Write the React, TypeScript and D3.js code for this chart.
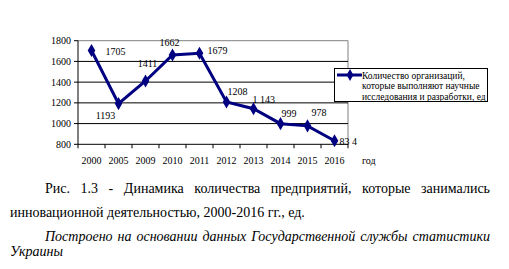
import React, { useEffect, useRef } from "react";
import * as d3 from "d3";

const years = ["2000", "2005", "2009", "2010", "2011", "2012", "2013", "2014", "2015", "2016"];
const values = [1705, 1193, 1411, 1662, 1679, 1208, 1143, 999, 978, 834];
const valueLabels = ["1705", "1193", "1411", "1662", "1679", "1208", "1 143", "999", "978", "83 4"];
const yTicks = [800, 1000, 1200, 1400, 1600, 1800];
const seriesName = ["Количество организаций,", "которые выполняют научные", "исследования и разработки, ед"];
const xAxisTitle = "год";
const captionLines = [
  "Рис. 1.3 - Динамика количества предприятий, которые занимались",
  "инновационной деятельностью, 2000-2016 гг., ед.",
];
const sourceLines = ["Построено на основании данных Государственной службы статистики", "Украины"];

// label offsets relative to the point (layout, not data)
const labelOffsets: [number, number, string][] = [
  [14, 4, "start"],
  [-13, 15, "middle"],
  [2, -14, "middle"],
  [-3, -9, "middle"],
  [8, 1, "start"],
  [1, -7, "start"],
  [-1, -6, "start"],
  [1, -7, "start"],
  [4, -10, "start"],
  [5, 4, "start"],
];

const L = 78, R = 348, T = 40.7, B = 144.3;
const navy = "#000080";
const FS = { fontFamily: "'Liberation Serif', 'Times New Roman', serif" };

export default function App() {
  const ref = useRef<SVGSVGElement>(null);
  const x = d3.scaleBand<string>().domain(years).range([L, R]);
  const y = d3.scaleLinear().domain([800, 1800]).range([B, T]);
  const line = d3
    .line<number>()
    .x((_, i) => (x(years[i]) as number) + x.bandwidth() / 2)
    .y((d) => y(d));
  const diamond = d3.symbol(d3.symbolDiamond, 50)() as string;

  useEffect(() => {
    if (!ref.current) return;
    d3.select(ref.current)
      .selectAll<SVGTextElement, unknown>("text.justify")
      .each(function () {
        const el = this;
        el.setAttribute("word-spacing", "0");
        const target = +(el.getAttribute("data-w") || 0);
        const w = el.getComputedTextLength();
        const spaces = (el.textContent || "").split(" ").length - 1;
        if (spaces > 0) el.setAttribute("word-spacing", String((target - w) / spaces));
      });
  }, []);

  return (
    <svg
      ref={ref}
      width={509}
      height={269}
      style={{ position: "absolute", left: 0, top: 0, background: "#fff" }}
    >
      <rect x={0} y={0} width={509} height={269} fill="#fff" />
      {/* plot border */}
      <line x1={L} x2={R} y1={y(1800)} y2={y(1800)} stroke="#808080" />
      <line x1={R} x2={R} y1={T} y2={B} stroke="#808080" />
      {/* gridlines */}
      {yTicks.filter((t) => t > 800 && t < 1800).map((t) => (
        <line key={t} x1={L} x2={R} y1={y(t)} y2={y(t)} stroke="#000" />
      ))}
      {/* axes */}
      <line x1={L} x2={L} y1={T} y2={B} stroke="#000" />
      <line x1={L} x2={R} y1={B} y2={B} stroke="#000" />
      {yTicks.map((t) => (
        <g key={t}>
          <line x1={L - 4} x2={L} y1={y(t)} y2={y(t)} stroke="#000" />
          <text x={71} y={y(t) + 3.5} fontSize={10} textAnchor="end" style={FS}>{t}</text>
        </g>
      ))}
      {years.map((yr) => (
        <line key={"t" + yr} x1={x(yr) as number} x2={x(yr) as number} y1={B} y2={B + 4} stroke="#000" />
      ))}
      <line x1={R} x2={R} y1={B} y2={B + 4} stroke="#000" />
      {years.map((yr) => (
        <text key={"l" + yr} x={(x(yr) as number) + x.bandwidth() / 2} y={163.5} fontSize={10} textAnchor="middle" style={FS}>
          {yr}
        </text>
      ))}
      <text x={362} y={163.5} fontSize={10} style={FS}>{xAxisTitle}</text>
      {/* series */}
      <path d={line(values) as string} fill="none" stroke={navy} strokeWidth={3} />
      {values.map((v, i) => (
        <path
          key={"m" + i}
          d={diamond}
          transform={`translate(${(x(years[i]) as number) + x.bandwidth() / 2},${y(v)})`}
          fill={navy}
        />
      ))}
      {values.map((v, i) => (
        <text
          key={"v" + i}
          x={(x(years[i]) as number) + x.bandwidth() / 2 + labelOffsets[i][0]}
          y={y(v) + labelOffsets[i][1]}
          fontSize={10}
          textAnchor={labelOffsets[i][2] as any}
          style={FS}
        >
          {valueLabels[i]}
        </text>
      ))}
      {/* legend */}
      <rect x={334.5} y={68.5} width={153} height={33} fill="#fff" stroke="#000" />
      <line x1={337} x2={362} y1={75} y2={75} stroke={navy} strokeWidth={3} />
      <path d={d3.symbol(d3.symbolDiamond, 40)() as string} transform="translate(350,75)" fill={navy} />
      {seriesName.map((s, i) => (
        <text key={s} x={362} y={78.5 + i * 10.8} fontSize={9.5} style={FS}>
          {s}
        </text>
      ))}
      {/* caption */}
      <text className="justify" data-w={445} x={45} y={192.5} fontSize={14} style={FS}>
        {captionLines[0]}
      </text>
      <text x={10} y={217} fontSize={14} style={FS}>
        {captionLines[1]}
      </text>
      <text className="justify" data-w={445} x={45} y={240.5} fontSize={14} fontStyle="italic" style={FS}>
        {sourceLines[0]}
      </text>
      <text x={10} y={255.5} fontSize={14} fontStyle="italic" style={FS}>
        {sourceLines[1]}
      </text>
    </svg>
  );
}
